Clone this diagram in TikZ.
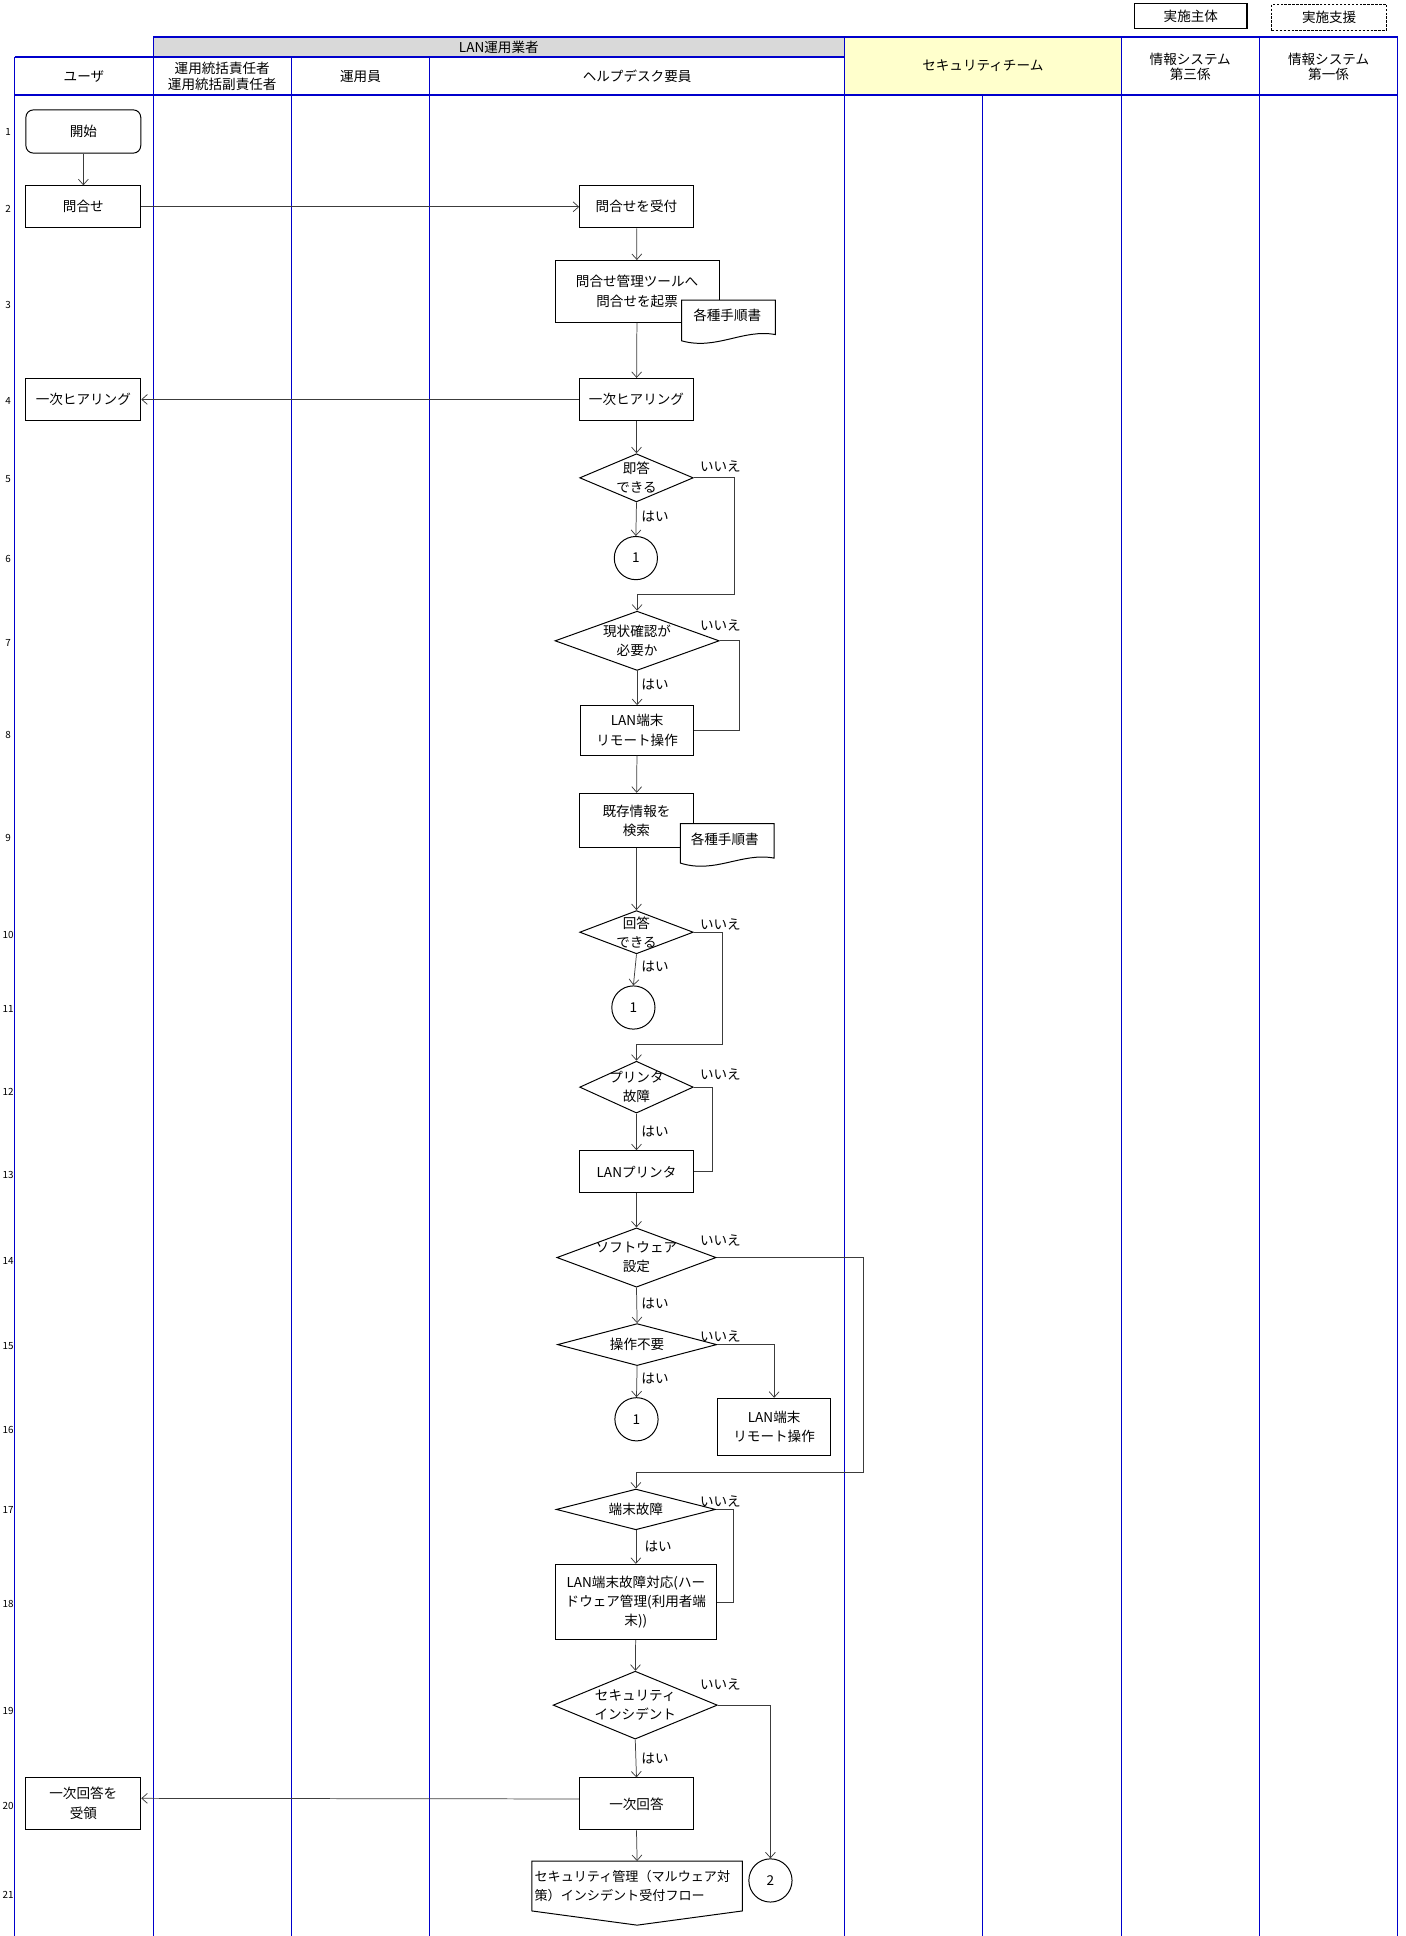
\documentclass[tikz,border=0pt]{standalone}
\usepackage{fontspec}
\setmainfont{Noto Sans CJK JP}
\usetikzlibrary{shapes.geometric, arrows.meta, calc}

\definecolor{lane}{RGB}{0,0,204}
\definecolor{hdrgray}{RGB}{217,217,217}
\definecolor{hdryellow}{RGB}{255,255,204}
\definecolor{flowline}{RGB}{60,60,60}

\tikzset{
  every node/.style={font=\fontsize{11}{15.5}\selectfont},
  lanerule/.style={draw=lane, line width=0.9pt},
  headrule/.style={draw=lane, line width=1.3pt},
  proc/.style={draw=black, line width=0.8pt, rectangle, align=center, inner sep=1pt, fill=white},
  startbox/.style={proc, rounded corners=6pt},
  decision/.style={draw=black, line width=0.8pt, diamond, inner sep=0pt, fill=white},
  dlab/.style={align=center, font=\fontsize{11}{15.5}\selectfont},
  conn/.style={draw=black, line width=0.8pt, circle, inner sep=0pt, minimum size=35pt},
  flow/.style={draw=flowline, line width=0.6pt},
  flowarrow/.style={flow, -{Straight Barb[length=4.5pt,width=8pt]}},
  answer/.style={font=\fontsize{11}{13}\selectfont, inner sep=0pt},
  rownum/.style={font=\fontsize{8}{9}\selectfont, inner sep=0pt},
  hdr/.style={align=center, font=\fontsize{11}{12.5}\selectfont, inner sep=0pt},
  docline/.style={draw=black, line width=0.8pt, fill=white},
}

\begin{document}
\begin{tikzpicture}[x=1pt, y=-1pt]
\useasboundingbox (0,0) rectangle (1138,1568);

% ---- header bands ----
\fill[hdrgray] (124,30) rectangle (684,46);
\fill[hdryellow] (684,30) rectangle (908,77);

% ---- swimlane rules ----
\foreach \x in {12,236,348} \draw[lanerule] (\x,46) -- (\x,1568);
\foreach \x in {124,684,908,1020,1132} \draw[lanerule] (\x,30) -- (\x,1568);
\draw[lanerule] (796,77) -- (796,1568);
\draw[headrule] (124,30) -- (1132,30);
\draw[headrule] (12,46) -- (684,46);
\draw[headrule] (12,77) -- (1132,77);

% ---- header texts ----
\node[hdr] (hlan)  at (404,38)   {LAN運用業者};
\node[hdr] (hsec)  at (796,53)   {セキュリティチーム};
\node[hdr] (huser) at (68,62)    {ユーザ};
\node[hdr] (hmgr)  at (180,62)   {運用統括責任者\\運用統括副責任者};
\node[hdr] (hop)   at (292,62)   {運用員};
\node[hdr] (hhelp) at (516,61.5) {ヘルプデスク要員};
\node[hdr] (hs3)   at (964,54)   {情報システム\\第三係};
\node[hdr] (hs1)   at (1076,54)  {情報システム\\第一係};

% ---- legend ----
\node[draw=black, line width=1.2pt, minimum width=91pt, minimum height=20pt, inner sep=0pt] (lgmain) at (964.5,13) {実施主体};
\node[draw=black, line width=0.7pt, dash pattern=on 2pt off 1.2pt, minimum width=93pt, minimum height=21.5pt, inner sep=0pt] (lgsupp) at (1076.5,14) {実施支援};

% ---- row numbers ----
\foreach \n/\y in {1/107,2/169,3/247,4/325,5/388,6/453,7/521,8/595,9/679,10/757,11/817,12/884,13/952,14/1021,15/1090,16/1158,17/1223,18/1299,19/1386,20/1463,21/1535}
  \node[rownum] (row\n) at (6.5,\y) {\n};

% ---- user lane ----
\node[startbox, minimum width=93pt, minimum height=35pt] (start) at (67.5,106.5) {開始};
\node[proc, minimum width=93pt, minimum height=34pt] (uinq)  at (67.5,167.5) {問合せ};
\node[proc, minimum width=93pt, minimum height=34pt] (uhear) at (67.5,323.5) {一次ヒアリング};
\node[proc, minimum width=93pt, minimum height=42pt] (uans)  at (67.5,1460.5) {一次回答を\\受領};

% ---- help desk lane ----
\node[proc, minimum width=92pt, minimum height=34pt] (hrecv) at (515.5,167.5) {問合せを受付};
\node[proc, minimum width=133pt, minimum height=50pt] (hticket) at (516,236) {問合せ管理ツールへ\\問合せを起票};
\filldraw[docline] (552,243) -- (628,243) -- (628,271) .. controls (602,266) and (580,284) .. (552,276) -- cycle;
\node (doca) at (589,255) {各種手順書};
\node[proc, minimum width=92pt, minimum height=34pt] (hhear) at (515.5,323.5) {一次ヒアリング};

\node[decision, minimum width=92pt, minimum height=39pt, label={[dlab]center:即答\\できる}] (d1) at (515.5,387) {};
\node[conn] (c1a) at (515,452) {1};

\node[decision, minimum width=133pt, minimum height=48pt, label={[dlab]center:現状確認が\\必要か}] (d2) at (516,519) {};
\node[proc, minimum width=92pt, minimum height=40pt] (remotea) at (516,591.5) {LAN端末\\リモート操作};

\node[proc, minimum width=92pt, minimum height=44pt] (search) at (515.5,664.5) {既存情報を\\検索};
\filldraw[docline] (551,667) -- (627,667) -- (627,695) .. controls (601,690) and (579,708) .. (551,699) -- cycle;
\node (docb) at (587,680) {各種手順書};

\node[decision, minimum width=92pt, minimum height=35pt, label={[dlab]center:回答\\できる}] (d3) at (515.5,755) {};
\node[conn] (c1b) at (513,816) {1};

\node[decision, minimum width=92pt, minimum height=42pt, label={[dlab]center:プリンタ\\故障}] (d4) at (515.5,880.5) {};
\node[proc, minimum width=92pt, minimum height=34pt] (printer) at (515.5,949) {LANプリンタ};

\node[decision, minimum width=129pt, minimum height=48pt, label={[dlab]center:ソフトウェア\\設定}] (d5) at (515.5,1018.5) {};
\node[decision, minimum width=129pt, minimum height=34pt, label={[dlab]center:操作不要}] (d6) at (516,1089) {};
\node[conn] (c1c) at (515.5,1149.5) {1};
\node[proc, minimum width=92pt, minimum height=46pt] (remoteb) at (627,1155.5) {LAN端末\\リモート操作};

\node[decision, minimum width=129pt, minimum height=33pt, label={[dlab]center:端末故障}] (d7) at (515,1222.5) {};
\node[proc, minimum width=131pt, minimum height=61pt, inner sep=0pt] (hw) at (515,1297.5) {LAN端末故障対応(ハー\\ドウェア管理(利用者端\\末))};

\node[decision, minimum width=133pt, minimum height=55pt, label={[dlab]center:セキュリティ\\インシデント}] (d8) at (514.5,1381) {};
\node[proc, minimum width=92pt, minimum height=42pt] (hans) at (515.5,1461) {一次回答};

% off-page connector to the incident reception flow
\node[minimum width=170pt, minimum height=40pt, text width=166pt, align=left, inner sep=2pt,
      font=\fontsize{10.6}{15}\selectfont] (offp) at (516,1527.5)
      {セキュリティ管理（マルウェア対\\策）インシデント受付フロー};
\draw[draw=black, line width=0.8pt] (offp.north west) -- (offp.north east) -- (offp.south east)
      -- ([yshift=-11.5pt]offp.south) -- (offp.south west) -- cycle;
\node[conn] (c2) at (624,1523) {2};

% ---- connectors ----
\draw[flowarrow] (start) -- (uinq);
\draw[flowarrow] (uinq) -- (hrecv);
\draw[flowarrow] (hrecv) -- (hticket);
\draw[flowarrow] (hticket) -- (hhear);
\draw[flowarrow] (hhear) -- (uhear);
\draw[flowarrow] (hhear) -- (d1);
\draw[flowarrow] (d1.south) -- (c1a.north);
\draw[flowarrow] (d1.east) -- ++(33,0) |- ($(d2.north)+(0,-13)$) -- (d2.north);
\draw[flowarrow] (d2.south) -- (remotea.north);
\draw[flow] (d2.east) -- ++(16,0) |- (remotea.east);
\draw[flowarrow] (remotea) -- (search);
\draw[flowarrow] (search) -- (d3);
\draw[flowarrow] (d3.south) -- (c1b.north);
\draw[flowarrow] (d3.east) -- ++(23,0) |- ($(d4.north)+(0,-13)$) -- (d4.north);
\draw[flowarrow] (d4.south) -- (printer.north);
\draw[flow] (d4.east) -- ++(15,0) |- (printer.east);
\draw[flowarrow] (printer) -- (d5);
\draw[flowarrow] (d5.south) -- (d6.north);
\draw[flowarrow] (d5.east) -- ++(119,0) |- ($(d7.north)+(0,-13)$) -- (d7.north);
\draw[flowarrow] (d6.south) -- (c1c.north);
\draw[flowarrow] (d6.east) -| (remoteb.north);
\draw[flowarrow] (d7.south) -- (hw.north);
\draw[flow] (d7.east) -- ++(14,0) |- (hw.east);
\draw[flowarrow] (hw) -- (d8);
\draw[flowarrow] (d8.south) -- (hans.north);
\draw[flowarrow] (d8.east) -| (c2.north);
\draw[flowarrow] ([yshift=4pt]hans.west) -- ([yshift=4pt]uans.east);
\draw[flowarrow] (hans.south) -- (offp.north);

% ---- branch answers ----
\node[answer] (n1) at (583.5,378) {いいえ};
\node[answer] (y1) at (530.5,418.5) {はい};
\node[answer] (n2) at (583.5,506.5) {いいえ};
\node[answer] (y2) at (530.5,554) {はい};
\node[answer] (n3) at (583.5,749) {いいえ};
\node[answer] (y3) at (530.5,783) {はい};
\node[answer] (n4) at (583.5,870.5) {いいえ};
\node[answer] (y4) at (530.5,916.5) {はい};
\node[answer] (n5) at (583.5,1005) {いいえ};
\node[answer] (y5) at (530.5,1056) {はい};
\node[answer] (n6) at (583.5,1082.5) {いいえ};
\node[answer] (y6) at (530.5,1116.5) {はい};
\node[answer] (n7) at (583.5,1216) {いいえ};
\node[answer] (y7) at (533,1252.5) {はい};
\node[answer] (n8) at (583.5,1364.5) {いいえ};
\node[answer] (y8) at (530.5,1424) {はい};
\end{tikzpicture}
\end{document}
